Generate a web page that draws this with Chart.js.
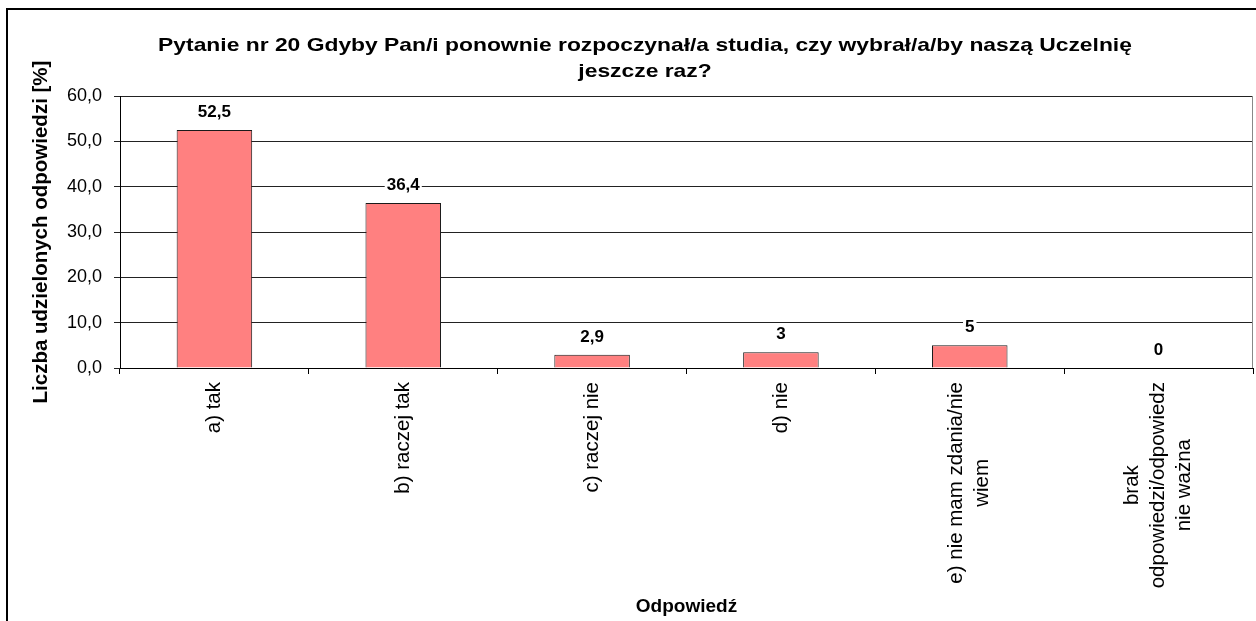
<!DOCTYPE html>
<html lang="pl">
<head>
<meta charset="UTF-8">
<title>Pytanie nr 20</title>
<script src="https://cdn.jsdelivr.net/npm/chart.js"></script>
<style>
  body { margin: 0; background: #fff; }
  #wrap { width: 1256px; height: 621px; position: relative; }
</style>
</head>
<body>
<div id="wrap"><canvas id="chart"></canvas></div>
<script>
    const titleLines = ['Pytanie nr 20 Gdyby Pan/i ponownie rozpoczynał/a studia, czy wybrał/a/by naszą Uczelnię', 'jeszcze raz?'];
    const categories = [
        ["a) tak"],
        ["b) raczej tak"],
        ["c) raczej nie"],
        ["d) nie"],
        ["e) nie mam zdania/nie", "wiem"],
        ["brak", "odpowiedzi/odpowiedz", "nie ważna"]
    ];
    const values = [52.5, 36.4, 2.9, 3.5, 5.0, 0];
    const valueLabels = ["52,5", "36,4", "2,9", "3", "5", "0"];
    const yTicks = { min: 0, max: 60, step: 10 };

    const FONT = "'Liberation Sans', Arial, sans-serif";

    // ramka, tytuł, prawa krawędź, etykiety osi X i wartości
    const extras = {
        id: 'extras',
        afterDraw(chart) {
            const ctx = chart.ctx;
            const area = chart.chartArea;
            ctx.save();

            // ramka wykresu (górna i lewa krawędź)
            ctx.strokeStyle = '#000';
            ctx.lineWidth = 2;
            ctx.beginPath();
            ctx.moveTo(7, 621);
            ctx.lineTo(7, 9);
            ctx.lineTo(1256, 9);
            ctx.stroke();

            // tytuł (rozciągnięty poziomo jak w oryginale)
            ctx.fillStyle = '#000';
            ctx.textAlign = 'center';
            ctx.textBaseline = 'middle';
            ctx.font = "bold 18.5px " + FONT;
            titleLines.forEach((t, i) => {
                ctx.save();
                ctx.translate(645, 46 + i * 26);
                ctx.scale(1.235, 1);
                ctx.fillText(t, 0, 0);
                ctx.restore();
            });

            // prawa krawędź obszaru kreślenia
            ctx.strokeStyle = '#888';
            ctx.lineWidth = 1;
            ctx.beginPath();
            ctx.moveTo(area.right - 0.5, area.top);
            ctx.lineTo(area.right - 0.5, area.bottom);
            ctx.stroke();

            // etykiety kategorii, obrócone
            const xs = chart.scales.x;
            ctx.font = "20.5px " + FONT;
            const lineH = 26;
            categories.forEach((lines, i) => {
                const cx = xs.getPixelForValue(i);
                const maxW = Math.max(...lines.map(l => ctx.measureText(l).width));
                const cy = area.bottom + 14 + maxW / 2;
                lines.forEach((l, j) => {
                    const lx = cx + (j - (lines.length - 1) / 2) * lineH;
                    ctx.save();
                    ctx.translate(lx, cy);
                    ctx.rotate(-Math.PI / 2);
                    ctx.fillText(l, 0, 0);
                    ctx.restore();
                });
            });

            // etykiety wartości nad słupkami
            const meta = chart.getDatasetMeta(0);
            ctx.font = "bold 17px " + FONT;
            meta.data.forEach((bar, i) => {
                const txt = valueLabels[i];
                const w = ctx.measureText(txt).width;
                const ty = bar.y - 18;
                ctx.fillStyle = '#fff';
                ctx.fillRect(bar.x - w / 2 - 2, ty - 8, w + 4, 16);
                ctx.fillStyle = '#000';
                ctx.fillText(txt, bar.x, ty);
            });
            ctx.restore();
        }
    };

    new Chart(document.getElementById('chart'), {
        type: 'bar',
        data: {
            labels: categories.map(c => c.join(' ')),
            datasets: [{
                data: values,
                backgroundColor: '#FF8080',
                borderColor: '#1a1a1a',
                borderWidth: 1,
                borderSkipped: 'bottom',
                barPercentage: 0.4,
                categoryPercentage: 1.0
            }]
        },
        options: {
            responsive: true,
            maintainAspectRatio: false,
            animation: false,
            layout: { padding: { left: 0, right: 3, top: 96, bottom: 0 } },
            plugins: {
                legend: { display: false },
                tooltip: { enabled: false },
                title: { display: false }
            },
            scales: {
                x: {
                    afterFit: (s) => { s.height = 253; },
                    grid: { display: true, drawOnChartArea: false, drawTicks: true, tickLength: 6, color: '#000', offset: true },
                    border: { display: true, color: '#000' },
                    ticks: { display: false },
                    title: {
                        display: true,
                        text: 'Odpowiedź',
                        color: '#000',
                        font: { family: FONT, size: 19, weight: 'bold' },
                        padding: { top: 0, bottom: 3 }
                    }
                },
                y: {
                    afterFit: (s) => { s.width = 120; },
                    min: yTicks.min,
                    max: yTicks.max,
                    grid: { color: '#222', tickLength: 6 },
                    border: { display: true, color: '#000' },
                    ticks: {
                        stepSize: yTicks.step,
                        padding: 12,
                        color: '#000',
                        font: { family: FONT, size: 18 },
                        callback: (v) => v.toFixed(1).replace('.', ',')
                    },
                    title: {
                        display: true,
                        text: 'Liczba udzielonych odpowiedzi [%]',
                        color: '#000',
                        font: { family: FONT, size: 20.5, weight: 'bold' },
                        padding: { top: 29, bottom: 0 }
                    }
                }
            }
        },
        plugins: [extras]
    });
</script>
</body>
</html>
